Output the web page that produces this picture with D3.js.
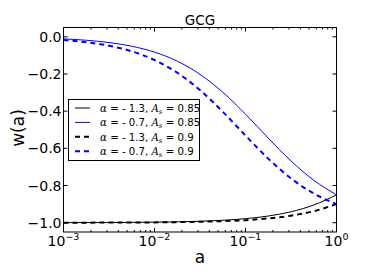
<!DOCTYPE html>
<html><head><meta charset="utf-8">
<script src="https://cdn.jsdelivr.net/npm/d3@7"></script>
<style>body{margin:0;background:#fff}svg{display:block}text{font-family:"DejaVu Sans",sans-serif}</style>
</head><body><svg id="c" width="374" height="280"></svg>
<script>
const logA = [-3,-2.75,-2.5,-2.25,-2,-1.75,-1.5,-1.25,-1,-0.75,-0.5,-0.25,0];
const wBlackSolid = [-0.99965,-0.99941,-0.99901,-0.99834,-0.99721,-0.99533,-0.99218,-0.98694,-0.97826,-0.96405,-0.94108,-0.90488,-0.85];
const wBlueSolid = [-0.01118,-0.01863,-0.03089,-0.05078,-0.0824,-0.1310,-0.2020,-0.2981,-0.4164,-0.5449,-0.6679,-0.7714,-0.85];
const wBlackDash = [-0.99978,-0.99963,-0.99938,-0.99895,-0.99824,-0.99705,-0.99506,-0.99174,-0.98620,-0.97706,-0.96207,-0.93793,-0.9];
const wBlueDash = [-0.01764,-0.02927,-0.04818,-0.07833,-0.1248,-0.1932,-0.2867,-0.4029,-0.5312,-0.6554,-0.7615,-0.8428,-0.9];
const yTicks = [0,-0.2,-0.4,-0.6,-0.8,-1.0];
const xTickExp = [-3,-2,-1,0];
const seriesLabels = [
  {alpha:"- 1.3", as:"0.85"},
  {alpha:"- 0.7", as:"0.85"},
  {alpha:"- 1.3", as:"0.9"},
  {alpha:"- 0.7", as:"0.9"}
];

const svg = d3.select("#c");
const L = 63.5, R = 336.5, T = 27.5, B = 232;
const x = d3.scaleLog().domain([1e-3,1]).range([L,R]);
const y = d3.scaleLinear().domain([-1.05,0.05]).range([B,T]);

const series = [
  {vals:wBlackSolid, color:"#000", w:1, dash:null},
  {vals:wBlueSolid, color:"#0000ff", w:1, dash:null},
  {vals:wBlackDash, color:"#000", w:2, dash:"5,4"},
  {vals:wBlueDash, color:"#0000ff", w:2, dash:"5,4"}
];

svg.append("defs").append("clipPath").attr("id","clip").append("rect")
  .attr("x",L).attr("y",T).attr("width",R-L).attr("height",B-T);

const line = d3.line().x(d=>x(Math.pow(10,d[0]))).y(d=>y(d[1])).curve(d3.curveMonotoneX);
const g = svg.append("g").attr("clip-path","url(#clip)");
series.forEach(s=>{
  g.append("path").datum(logA.map((l,i)=>[l,s.vals[i]]))
    .attr("d",line).attr("fill","none").attr("stroke",s.color)
    .attr("stroke-width",s.w).attr("stroke-dasharray",s.dash);
});

// frame
svg.append("rect").attr("x",L).attr("y",T).attr("width",R-L).attr("height",B-T)
  .attr("fill","none").attr("stroke","#000").attr("stroke-width",1);

// x ticks
const major = xTickExp.map(e=>Math.pow(10,e));
const minor = [];
for (let e=-3;e<0;e++) for (let k=2;k<10;k++) minor.push(k*Math.pow(10,e));
const tk = svg.append("g");
major.forEach(v=>{
  const px = x(v);
  tk.append("line").attr("x1",px).attr("x2",px).attr("y1",B).attr("y2",B-4).attr("stroke","#000");
  tk.append("line").attr("x1",px).attr("x2",px).attr("y1",T).attr("y2",T+4).attr("stroke","#000");
});
minor.forEach(v=>{
  const px = x(v);
  tk.append("line").attr("x1",px).attr("x2",px).attr("y1",B).attr("y2",B-2).attr("stroke","#000");
  tk.append("line").attr("x1",px).attr("x2",px).attr("y1",T).attr("y2",T+2).attr("stroke","#000");
});
xTickExp.forEach(e=>{
  const t = svg.append("text").attr("x",x(Math.pow(10,e))).attr("y",246)
    .attr("text-anchor","middle").attr("font-size",14).attr("fill","#000");
  t.append("tspan").text("10");
  t.append("tspan").attr("dy",-6).attr("font-size",9.5).text(e===0?"0":"\u2212"+Math.abs(e));
});
// y ticks
yTicks.forEach(v=>{
  const py = y(v);
  tk.append("line").attr("x1",L).attr("x2",L+4).attr("y1",py).attr("y2",py).attr("stroke","#000");
  tk.append("line").attr("x1",R).attr("x2",R-4).attr("y1",py).attr("y2",py).attr("stroke","#000");
  svg.append("text").attr("x",L-2).attr("y",py+5).attr("text-anchor","end")
    .attr("font-size",14).attr("fill","#000")
    .text((v<0?"\u2212":"")+Math.abs(v).toFixed(1));
});

svg.append("text").attr("x",(L+R)/2).attr("y",25).attr("text-anchor","middle").attr("font-size",13.5).text("GCG");
svg.append("text").attr("x",(L+R)/2).attr("y",263).attr("text-anchor","middle").attr("font-size",17).text("a");
svg.append("text").attr("transform",`translate(24,128) rotate(-90)`).attr("text-anchor","middle").attr("font-size",17).text("w(a)");

// legend
const lg = svg.append("g");
lg.append("rect").attr("x",68.5).attr("y",99.5).attr("width",131).attr("height",61)
  .attr("fill","#fff").attr("stroke","#000").attr("stroke-width",1);
seriesLabels.forEach((lab,i)=>{
  const s = series[i];
  const ly = 108 + i*14.4;
  lg.append("line").attr("x1",75).attr("x2",90).attr("y1",ly).attr("y2",ly)
    .attr("stroke",s.color).attr("stroke-width",s.w).attr("stroke-dasharray",s.dash);
  const t = lg.append("text").attr("x",100).attr("y",ly+4).attr("font-size",10.2).attr("fill","#000");
  t.append("tspan").attr("font-family","DejaVu Serif").attr("font-style","italic").text("\u03b1");
  t.append("tspan").text(" = "+lab.alpha+", ");
  t.append("tspan").attr("font-family","DejaVu Serif").attr("font-style","italic").text("A");
  t.append("tspan").attr("font-family","DejaVu Serif").attr("font-style","italic").attr("font-size",7).attr("dy",2).text("s");
  t.append("tspan").attr("dy",-2).text(" = "+lab.as);
});
</script></body></html>
